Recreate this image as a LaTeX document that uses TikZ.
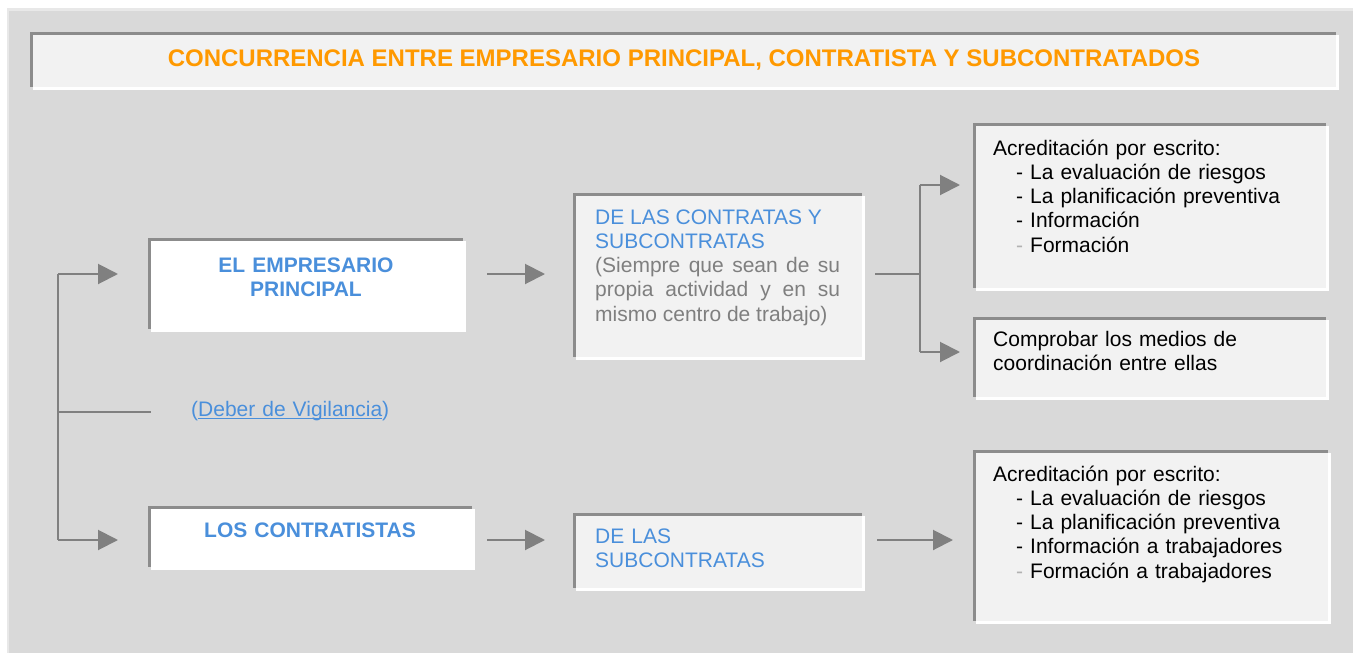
\documentclass[tikz,border=0pt]{standalone}
\usepackage{fontspec}
\setmainfont{Liberation Sans}
\usetikzlibrary{arrows.meta,shadows}
\definecolor{fondo}{HTML}{D9D9D9}
\definecolor{marco}{HTML}{E8E8E8}
\definecolor{borde}{HTML}{8C8C8C}
\definecolor{cajagris}{HTML}{F2F2F2}
\definecolor{azul}{HTML}{4A8FDB}
\definecolor{naranja}{HTML}{FF9900}
\definecolor{gristexto}{HTML}{7F7F7F}
\definecolor{grisflecha}{HTML}{808080}
\hyphenpenalty=10000
\tolerance=10000
\tikzstyle{caja} = [anchor=north west, inner sep=0pt, fill=cajagris,
	general shadow={fill=white, shadow xshift=2.5pt, shadow yshift=-2.5pt},
	path picture={\draw[borde, line width=5pt] (path picture bounding box.south west) -- (path picture bounding box.north west) -- (path picture bounding box.north east);}]
\tikzstyle{texto} = [anchor=base west, inner sep=0pt, font=\fontsize{21}{24.3}\selectfont, text width=320pt, align=left]
\tikzstyle{etiqueta} = [anchor=base, inner sep=0pt, font=\fontsize{21}{24.3}\selectfont\bfseries, text=azul, text width=300pt, align=center]
\tikzstyle{flecha} = [draw=grisflecha, line width=2pt, -{Triangle[length=20pt,width=20pt]}]
\tikzstyle{linea} = [draw=grisflecha, line width=2pt]
\newcommand{\guion}{\hspace*{23pt}- }
\newcommand{\guionclaro}{\hspace*{23pt}{\color{gristexto!60}-} }
\newcommand{\subrayado}[1]{\setbox0\hbox{#1}\rlap{\rule[-3pt]{\wd0}{1.3pt}}\box0}

\begin{document}
\begin{tikzpicture}[x=1pt, y=-1pt]%
	\useasboundingbox (0,0) rectangle (1353,653);%
	\fill[white] (0,0) rectangle (1353,653);%
	\fill[marco] (7,8) rectangle (1353,653);%
	\fill[fondo] (9,11) rectangle (1353,653);%
	% cajas
	\node[caja, minimum width=1306pt, minimum height=55pt] (titulo) at (30,32) {};%
	\node[caja, fill=white, minimum width=315pt, minimum height=91pt] (empresario) at (148,238) {};%
	\node[caja, fill=white, minimum width=324pt, minimum height=61pt] (contratistas) at (148,506) {};%
	\node[caja, minimum width=289pt, minimum height=164pt] (contratas) at (573,193) {};%
	\node[caja, minimum width=289pt, minimum height=75pt] (subcontratas) at (573,513) {};%
	\node[caja, minimum width=353pt, minimum height=165pt] (acredita1) at (973,123) {};%
	\node[caja, minimum width=353pt, minimum height=80pt] (medios) at (973,317) {};%
	\node[caja, minimum width=355pt, minimum height=171pt] (acredita2) at (973,450) {};%
	% textos
	\node[anchor=base, inner sep=0pt, font=\fontsize{24}{28}\selectfont\bfseries, text=naranja] (titulo-txt) at (684,66.5) {CONCURRENCIA ENTRE EMPRESARIO PRINCIPAL, CONTRATISTA Y SUBCONTRATADOS};%
	\node[etiqueta] (empresario-txt) at (306,272) {EL EMPRESARIO\\PRINCIPAL};%
	\node[etiqueta] (contratistas-txt) at (310,537.5) {LOS CONTRATISTAS};%
	\node[texto, text width=245pt, align=justify] (contratas-txt) at (595,224) {{\color{azul}DE LAS CONTRATAS Y\\SUBCONTRATAS}\\{\color{gristexto}(Siempre que sean de su propia actividad y en su mismo centro de trabajo)}};%
	\node[texto, text=azul] (subcontratas-txt) at (595,543.5) {DE LAS\\SUBCONTRATAS};%
	\node[texto, text=azul] (vigilancia-txt) at (191,416) {(\subrayado{Deber de Vigilancia})};%
	\node[texto] (acredita1-txt) at (993,155) {Acreditación por escrito:\\\guion La evaluación de riesgos\\\guion La planificación preventiva\\\guion Información\\\guionclaro Formación};%
	\node[texto] (medios-txt) at (993,346.5) {Comprobar los medios de\\coordinación entre ellas};%
	\node[texto] (acredita2-txt) at (993,481) {Acreditación por escrito:\\\guion La evaluación de riesgos\\\guion La planificación preventiva\\\guion Información a trabajadores\\\guionclaro Formación a trabajadores};%
	% conectores
	\coordinate (v1) at (58,274);%
	\coordinate (v2) at (58,412);%
	\coordinate (v3) at (58,540);%
	\coordinate (b0) at (920,274);%
	\coordinate (b1) at (920,185);%
	\coordinate (b2) at (920,352);%
	\draw[linea] (v1) -- (v3);%
	\draw[flecha, shorten >=30pt] (v1) -- (v1 -| empresario.west);%
	\draw[flecha, shorten >=30pt] (v3) -- (v3 -| contratistas.west);%
	\draw[linea, shorten >=40pt] (v2) -- (v2 -| vigilancia-txt.west);%
	\draw[flecha, shorten <=24pt, shorten >=28pt] (v1 -| empresario.east) -- (v1 -| contratas.west);%
	\draw[linea, shorten <=13pt] (v1 -| contratas.east) -- (b0);%
	\draw[linea] (b1) -- (b2);%
	\draw[flecha, shorten >=13pt] (b1) -- (b1 -| acredita1.west);%
	\draw[flecha, shorten >=13pt] (b2) -- (b2 -| medios.west);%
	\draw[flecha, shorten <=15pt, shorten >=28pt] (v3 -| contratistas.east) -- (v3 -| subcontratas.west);%
	\draw[flecha, shorten <=15pt, shorten >=20pt] (v3 -| subcontratas.east) -- (v3 -| acredita2.west);%
\end{tikzpicture}%
\end{document}
